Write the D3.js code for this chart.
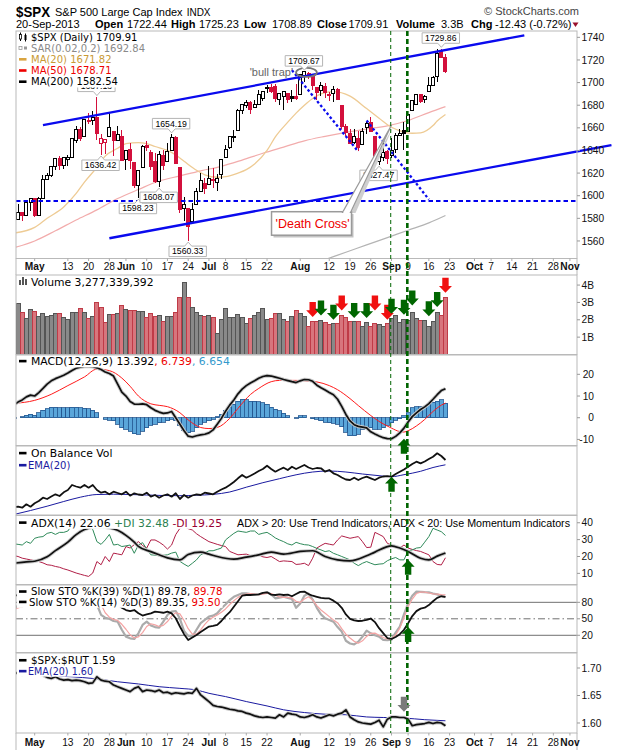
<!DOCTYPE html>
<html>
<head>
<meta charset="utf-8">
<title>$SPX Daily</title>
<script src="https://cdn.jsdelivr.net/npm/d3@7/dist/d3.min.js"></script>
<style>
  body { margin: 0; background: #fff; }
  text { font-family: "Liberation Sans", Arial, sans-serif; }
  text.lg { font-family: "DejaVu Sans", Verdana, sans-serif; white-space: pre; }
</style>
</head>
<body>
<div id="chart"></div>
<script>
// ---------------- data ----------------
const days = [
 "2013-04-24","2013-04-25","2013-04-26","2013-04-29","2013-04-30",
 "2013-05-01","2013-05-02","2013-05-03","2013-05-06","2013-05-07","2013-05-08","2013-05-09","2013-05-10","2013-05-13","2013-05-14","2013-05-15","2013-05-16","2013-05-17","2013-05-20","2013-05-21","2013-05-22","2013-05-23","2013-05-24","2013-05-28","2013-05-29","2013-05-30","2013-05-31",
 "2013-06-03","2013-06-04","2013-06-05","2013-06-06","2013-06-07","2013-06-10","2013-06-11","2013-06-12","2013-06-13","2013-06-14","2013-06-17","2013-06-18","2013-06-19","2013-06-20","2013-06-21","2013-06-24","2013-06-25","2013-06-26","2013-06-27","2013-06-28",
 "2013-07-01","2013-07-02","2013-07-03","2013-07-05","2013-07-08","2013-07-09","2013-07-10","2013-07-11","2013-07-12","2013-07-15","2013-07-16","2013-07-17","2013-07-18","2013-07-19","2013-07-22","2013-07-23","2013-07-24","2013-07-25","2013-07-26","2013-07-29","2013-07-30","2013-07-31",
 "2013-08-01","2013-08-02","2013-08-05","2013-08-06","2013-08-07","2013-08-08","2013-08-09","2013-08-12","2013-08-13","2013-08-14","2013-08-15","2013-08-16","2013-08-19","2013-08-20","2013-08-21","2013-08-22","2013-08-23","2013-08-26","2013-08-27","2013-08-28","2013-08-29","2013-08-30",
 "2013-09-03","2013-09-04","2013-09-05","2013-09-06","2013-09-09","2013-09-10","2013-09-11","2013-09-12","2013-09-13","2013-09-16","2013-09-17","2013-09-18","2013-09-19","2013-09-20"]

const open = [
 1578.8,1578.8,1585.2,1582.3,1593.6,
 1597.6,1582.8,1597.6,1614.4,1617.6,1625.6,1632.7,1626.7,1632.1,1633.8,1649.1,1658.1,1652.4,1665.7,1666.2,1669.4,1646.2,1646.7,1652.6,1656.6,1649.1,1652.1,
 1631.7,1640.7,1629.1,1609.3,1625.3,1644.7,1638.6,1629.9,1612.2,1635.5,1630.6,1639.8,1651.8,1624.6,1588.6,1588.8,1577.5,1592.3,1603.4,1611.1,
 1609.8,1614.3,1611.5,1618.7,1634.2,1642.9,1652.3,1657.4,1675.3,1679.6,1682.7,1677.9,1681.0,1686.2,1694.4,1696.0,1696.1,1685.2,1687.3,1690.3,1687.9,1687.8,
 1689.4,1706.1,1708.0,1705.8,1695.3,1693.4,1696.1,1688.4,1690.7,1693.9,1679.6,1661.2,1655.3,1646.8,1650.7,1645.0,1659.9,1664.3,1652.5,1630.3,1633.5,1638.9,
 1635.9,1640.7,1653.3,1657.4,1656.9,1675.1,1681.0,1689.2,1685.0,1691.7,1697.7,1705.7,1727.3,1722.44]
const high = [
 1585.8,1592.6,1585.8,1596.6,1597.6,
 1597.6,1598.6,1618.5,1619.8,1626.0,1632.8,1635.0,1633.7,1636.0,1651.1,1661.5,1660.5,1667.5,1672.8,1674.9,1687.18,1654.2,1649.8,1674.2,1656.6,1661.9,1658.0,
 1640.4,1646.5,1629.3,1622.6,1644.4,1648.7,1640.1,1637.7,1639.3,1640.8,1646.5,1654.19,1652.5,1624.6,1599.2,1588.8,1593.8,1606.8,1620.1,1615.9,
 1626.6,1624.3,1618.9,1632.1,1644.7,1652.4,1657.9,1676.6,1680.2,1684.5,1683.7,1684.8,1693.1,1692.1,1697.6,1698.4,1698.4,1690.9,1691.9,1690.9,1693.2,1698.4,
 1707.9,1709.67,1709.2,1705.8,1695.3,1700.2,1699.4,1691.5,1696.8,1695.5,1679.6,1663.6,1659.2,1658.9,1656.9,1659.6,1664.9,1669.5,1652.5,1641.2,1646.4,1640.1,
 1651.4,1655.7,1659.2,1664.8,1672.4,1684.1,1689.1,1690.0,1688.7,1705.0,1705.5,1729.4,1729.86,1725.23]
const low = [
 1575.8,1578.8,1577.6,1582.3,1586.5,
 1581.3,1582.8,1597.6,1614.2,1616.6,1622.7,1623.1,1623.7,1626.7,1633.8,1646.7,1648.6,1652.4,1663.5,1662.7,1648.9,1636.42,1636.6,1652.6,1635.5,1648.6,1630.7,
 1622.7,1623.6,1607.1,1598.23,1625.3,1639.3,1622.9,1610.9,1608.07,1622.9,1630.3,1639.8,1628.9,1584.3,1577.7,1560.33,1577.1,1592.3,1603.4,1601.1,
 1609.8,1606.8,1604.6,1614.7,1634.2,1641.2,1647.7,1657.4,1672.3,1677.9,1671.8,1677.9,1681.0,1684.1,1690.7,1690.8,1682.6,1680.2,1676.0,1681.9,1682.4,1684.9,
 1689.4,1700.7,1703.6,1693.3,1684.9,1688.4,1686.0,1683.4,1682.6,1684.8,1658.6,1652.6,1645.8,1646.1,1639.4,1645.0,1654.8,1656.0,1629.1,1627.47,1630.9,1628.1,
 1633.4,1637.4,1653.1,1640.6,1656.9,1675.1,1681.0,1682.0,1682.2,1691.7,1697.7,1700.7,1721.4,1708.89]
const close = [
 1578.8,1585.2,1582.2,1593.6,1597.6,
 1582.7,1597.6,1614.4,1617.5,1625.96,1632.7,1626.7,1633.7,1633.8,1650.3,1658.8,1650.5,1667.5,1666.3,1669.2,1655.4,1650.5,1649.6,1660.1,1648.4,1654.4,1630.7,
 1640.4,1631.4,1608.9,1622.6,1643.4,1642.8,1626.1,1612.5,1636.4,1626.7,1639.0,1651.8,1628.9,1588.2,1592.4,1573.1,1588.0,1603.3,1613.2,1606.3,
 1615.0,1614.1,1615.4,1631.9,1640.5,1652.3,1652.6,1675.0,1680.2,1682.5,1676.3,1680.9,1689.4,1692.1,1695.5,1692.4,1685.9,1690.3,1691.7,1685.3,1686.0,1685.7,
 1706.9,1709.67,1707.1,1697.4,1690.9,1697.5,1691.4,1689.5,1694.2,1685.4,1661.3,1655.8,1646.1,1652.4,1642.8,1657.0,1663.5,1656.8,1630.5,1635.0,1638.2,1633.0,
 1639.8,1653.1,1655.1,1655.2,1671.7,1684.0,1689.1,1683.4,1688.0,1697.6,1704.8,1725.5,1722.3,1709.91]

// volume in billions
const volume = [
 3.0,2.92,2.40,2.06,2.58,
 2.46,2.21,2.38,2.21,2.27,2.38,2.38,2.12,2.00,2.40,2.44,2.63,2.44,2.10,2.21,3.02,2.71,1.87,2.31,2.31,2.35,2.85,
 2.60,2.54,2.54,2.46,2.46,2.12,2.38,2.21,2.27,1.90,2.21,2.21,2.44,3.27,4.17,3.27,2.73,2.40,2.25,2.21,
 2.25,2.15,1.23,2.02,2.63,2.15,2.12,2.31,2.15,1.80,2.08,2.27,2.44,2.63,2.02,2.06,2.36,2.35,2.02,1.88,2.21,2.56,
 2.36,2.21,1.63,1.92,1.92,1.98,1.83,1.73,1.81,1.81,2.25,2.15,1.92,1.92,1.92,1.60,1.87,1.60,1.81,1.73,1.63,1.77,
 2.08,2.27,1.83,2.02,1.96,2.44,2.06,1.98,1.98,1.63,1.92,2.44,2.27,3.28]

// moving averages (sampled where the line was read)
const ma20 = [["2013-04-24",1567],["2013-05-01",1572],["2013-05-06",1580],["2013-05-10",1590],["2013-05-15",1602],["2013-05-17",1612],["2013-05-22",1625],["2013-05-24",1635],["2013-05-30",1642],["2013-06-03",1646],["2013-06-06",1647],["2013-06-10",1646],["2013-06-12",1643.5],["2013-06-17",1640],["2013-06-19",1636],["2013-06-21",1630.5],["2013-06-26",1622.5],["2013-06-28",1618.5],["2013-07-03",1616.3],["2013-07-08",1616.8],["2013-07-11",1620],["2013-07-15",1623],["2013-07-17",1628],["2013-07-22",1640],["2013-07-24",1652],["2013-07-29",1665],["2013-07-31",1673],["2013-08-02",1680],["2013-08-06",1686],["2013-08-08",1690],["2013-08-13",1692],["2013-08-19",1688],["2013-08-23",1677],["2013-08-28",1668.5],["2013-09-03",1660.5],["2013-09-06",1656.3],["2013-09-10",1655.2],["2013-09-12",1655.6],["2013-09-17",1662],["2013-09-18",1666],["2013-09-20",1671.82]]
const ma50 = [["2013-04-24",1554],["2013-05-01",1560],["2013-05-08",1569],["2013-05-15",1578.5],["2013-05-22",1587.5],["2013-05-30",1597.5],["2013-06-06",1605.5],["2013-06-13",1613],["2013-06-20",1617.5],["2013-06-27",1622],["2013-07-05",1626],["2013-07-12",1631.5],["2013-07-19",1637.5],["2013-07-26",1643],["2013-08-02",1648.5],["2013-08-09",1652.5],["2013-08-16",1656],["2013-08-23",1659],["2013-08-30",1661.8],["2013-09-09",1666.5],["2013-09-16",1673.5],["2013-09-20",1678.71]]
const ma200 = [["2013-08-02",1537],["2013-08-09",1543.5],["2013-08-16",1550],["2013-08-23",1556.5],["2013-08-30",1563],["2013-09-09",1569.5],["2013-09-16",1576],["2013-09-20",1582.54]]

// MACD(12,26,9)
const macd = [
 6.0,7.2,8.2,9.6,10.4,
 10.0,11.6,13.5,15.5,17.0,18.0,18.8,19.6,20.6,21.8,22.8,23.3,23.6,23.7,23.5,23.0,22.2,21.1,20.4,19.2,15.5,11.8,
 10.0,7.5,6.3,6.2,6.4,6.0,4.6,3.4,2.6,2.0,2.2,2.9,0.0,-3.0,-6.0,-8.5,-8.9,-8.3,-7.9,-7.6,
 -7.0,-5.6,-3.0,-0.3,3.0,5.8,8.2,11.0,13.2,14.8,16.0,17.0,18.2,19.0,19.4,19.2,18.7,18.2,17.6,17.1,16.6,16.2,
 17.0,17.6,17.5,16.8,15.0,13.8,12.8,11.6,10.6,8.5,5.2,1.5,-1.5,-3.2,-4.0,-4.3,-4.7,-6.5,-7.5,-8.4,-9.2,-9.6,
 -9.7,-8.6,-7.0,-4.8,-2.0,0.5,2.2,3.8,5.0,6.5,8.5,10.6,12.5,13.392]
const macdSignal = [["2013-04-24",6.6],["2013-05-01",8.0],["2013-05-07",10.8],["2013-05-13",14.8],["2013-05-17",18.8],["2013-05-22",22.4],["2013-05-28",21.7],["2013-05-31",18.3],["2013-06-04",14.5],["2013-06-06",10.0],["2013-06-11",6.4],["2013-06-13",5.7],["2013-06-17",5.1],["2013-06-20",2.3],["2013-06-24",-1.0],["2013-06-27",-4.5],["2013-07-01",-5.0],["2013-07-03",-4.5],["2013-07-09",-0.3],["2013-07-11",4.3],["2013-07-16",10.7],["2013-07-18",13.5],["2013-07-23",16.6],["2013-07-25",17.2],["2013-07-31",17.2],["2013-08-05",16.9],["2013-08-07",16.5],["2013-08-12",14.8],["2013-08-14",12.9],["2013-08-19",8.8],["2013-08-21",5.6],["2013-08-26",1.0],["2013-08-28",-1.7],["2013-09-03",-4.8],["2013-09-05",-6.4],["2013-09-06",-6.6],["2013-09-09",-6.0],["2013-09-11",-3.8],["2013-09-13",-0.8],["2013-09-17",2.9],["2013-09-19",5.8],["2013-09-20",6.739]]
const macdHist = [
 -0.2,0.0,0.5,1.1,1.5,
 1.1,2.3,3.5,4.2,4.8,4.9,4.6,4.5,4.5,4.8,4.8,4.5,4.3,4.2,3.5,2.3,0.0,-0.8,-1.2,-1.5,-3.1,-4.6,
 -5.4,-6.2,-7.4,-7.7,-6.2,-4.6,-3.5,-3.1,-2.3,-2.0,-1.5,-0.8,-1.5,-3.8,-5.7,-6.9,-6.2,-4.6,-3.1,-2.0,
 -1.5,-0.8,0.5,1.5,3.5,4.6,6.2,7.7,8.5,8.2,7.7,7.7,7.4,6.9,6.2,4.9,3.8,3.1,2.0,0.8,0.0,-0.3,
 0.8,0.8,0.0,-0.5,-0.8,-1.5,-2.0,-2.3,-2.6,-3.1,-4.2,-6.6,-8.2,-8.2,-7.7,-5.4,-4.6,-4.6,-5.4,-5.4,-4.6,-3.5,
 -2.3,-1.2,-0.5,0.8,2.3,4.6,5.1,5.1,5.4,6.2,7.2,7.7,8.2,6.654]

// On Balance Volume (relative, no scale printed) and its EMA(20)
const obv = [
 8.0,8.3,7.3,10.7,8.3,
 11.7,14.0,17.3,16.0,18.5,20.7,19.0,22.7,25.0,30.0,28.5,27.3,30.0,27.3,30.0,25.0,22.3,23.3,20.7,23.3,22.0,20.7,
 23.3,19.3,21.7,20.5,20.0,22.3,18.3,20.0,17.3,19.5,20.7,18.3,21.7,16.0,20.0,17.3,19.5,20.7,20.0,22.3,
 21.5,20.7,23.3,25.5,27.3,30.0,33.0,36.7,40.0,37.3,39.3,41.5,44.0,46.0,49.3,46.0,43.3,45.5,47.3,45.0,48.3,46.0,
 48.0,50.0,47.5,46.0,47.0,46.7,43.3,45.0,41.7,40.0,37.5,35.5,35.0,37.3,35.0,37.0,38.3,36.7,35.0,37.3,38.5,38.8,
 38.3,41.0,43.3,45.5,48.3,51.0,53.3,51.7,53.5,56.0,58.3,61.7,59.0,55.0]
const obvEma = [["2013-04-24",0.5],["2013-04-30",4.5],["2013-05-06",8.8],["2013-05-10",13.5],["2013-05-16",17.8],["2013-05-22",20.5],["2013-05-29",20.8],["2013-06-04",20.5],["2013-06-10",20.0],["2013-06-14",19.5],["2013-06-20",19.3],["2013-06-26",19.8],["2013-07-02",20.6],["2013-07-09",23.0],["2013-07-15",27.8],["2013-07-19",32.3],["2013-07-25",36.3],["2013-07-31",40.2],["2013-08-06",43.0],["2013-08-12",44.0],["2013-08-16",43.0],["2013-08-22",41.0],["2013-08-28",39.3],["2013-09-03",38.3],["2013-09-06",40.3],["2013-09-12",43.7],["2013-09-17",47.5],["2013-09-20",50.2]]

// ADX(14), +DI, -DI
const adx = [["2013-04-24",16],["2013-04-29",16.8],["2013-05-01",17.2],["2013-05-06",19.8],["2013-05-08",23.5],["2013-05-13",28.5],["2013-05-15",33],["2013-05-17",36],["2013-05-21",37.3],["2013-05-23",37.5],["2013-05-28",37],["2013-05-30",35.5],["2013-06-03",32.5],["2013-06-05",28.5],["2013-06-06",26],["2013-06-11",22.9],["2013-06-13",21],["2013-06-17",19.2],["2013-06-20",18],["2013-06-24",21.2],["2013-06-27",22.6],["2013-07-01",21.4],["2013-07-03",20],["2013-07-10",18.4],["2013-07-15",19.6],["2013-07-18",21],["2013-07-23",22.6],["2013-07-26",21.4],["2013-08-01",23],["2013-08-06",23.4],["2013-08-09",20],["2013-08-14",18],["2013-08-19",17.4],["2013-08-23",20.4],["2013-08-27",22.6],["2013-09-03",26.3],["2013-09-05",25],["2013-09-09",23],["2013-09-12",19],["2013-09-16",18],["2013-09-18",20.2],["2013-09-20",22.06]]
const plusDI = [
 27.5,27.2,26.8,28.8,27.8,
 30.8,31.5,31.8,33.7,34.3,33.1,34.3,34.3,35.1,38.7,39.5,40,39,38,36,28.8,27.2,29.8,33.1,26.8,27.2,25.9,
 26.3,26.8,21.9,26.8,28.2,24.5,21.0,20.8,20.4,20.7,21.0,22.0,22.6,17.1,15.5,14.1,16.0,18.0,21.0,22.2,
 23.4,23.4,24.2,25.0,29.8,31.8,33.7,35.1,34.7,34.3,35.1,35.1,33.1,33.8,34.3,32.8,31.0,29.8,28.8,27.5,26.8,28.4,
 27.6,27.0,26.8,25.9,24.8,23.9,22.9,23.4,21.9,21.0,20.0,19.0,18.0,16.0,14.6,16.0,17.0,16.0,15.1,15.5,15.7,17.5,
 18.6,19.4,18.0,18.0,23.4,23.9,25.0,25.3,28.5,31.8,36.7,35.7,34.7,32.48]
const minusDI = [
 20.5,20,19,18.5,18,
 17.5,17,16.2,15.1,14.8,14.1,13.6,12.7,12,11.1,10.2,9.5,8.8,8.2,10.2,17,15.1,20,17,22,21.5,21,
 25.9,25,27,28.8,26.5,25,29.8,29.8,28.5,26.8,24.4,26.8,33,36.7,37.7,36.5,35.7,33.5,31.8,30.3,
 28.8,28,27.2,26.5,25.9,23,22,21,21.2,21.4,20.5,20,21,19.8,19.4,20,18.5,17,17.4,17.2,17,15.3,
 15.5,16,14.6,19,25,26.5,27.8,27.3,26.8,29.8,32.2,31.5,30.8,31.3,31.8,28.8,25.3,25.5,34.3,33.1,31.8,27.8,
 26.8,25.8,25,26.8,25,24.2,23.5,23,22,21,17,15.3,15,19.25]

// slow stochastics
const stoK39 = [
 92,93,90,94,96,
 90,94,97,97,98,99,96,98,98,99,99,95,99,97,98,88,85,84,86,80,76,70,
 66,64,66,60,56,58,60,63,62,61,63,60,51,36,22,11.5,16,20.6,26,31,
 35.8,37,38.8,46,55,62,72,82,92,93.3,93.3,94,94.5,97,98.2,94,93.3,94.5,93.3,94,91,95,
 99,99.4,95,92,90,88,87.3,87,83,78,70,58,50,47,46,46.5,48,50.5,44,33,24,15,
 13.3,17,22,30,42,55,64,68.5,70.3,75,82,88,91,89.78]
const stoK14 = [
 68,74,72,85,90,
 80,88,96,96,98,99,92,96,96,98,98,90,98,95,96,76,57,52,50,46,44.8,30,
 17.6,14.5,13.3,23.6,38.8,44.8,38,35,33.9,44.8,57,63,64.2,50,28,19,17.6,30,42,48,
 53.9,55.8,60,69,76,84,90,93.3,96.4,96.4,95,93.3,94.5,96.4,98.2,94.5,87.3,88.5,90.3,88,86.1,70,
 78,92,96,85,70,58,51,48,44.8,35,26.7,10,5,3.6,8.5,17.6,28.5,23.6,20,17.6,11.5,11,
 12.1,25,36,58,78,92,99.4,99,98.5,98.2,96,94.5,92,89.35]
const stoD3 = [
 66,70,72,77,82,
 85,86,88,93,97,98,96,96,95,97,97,95,95,94,96,89,76,61,53,49,47,40,
 31,21,15,17,25,36,41,39,36,38,45,55,61,59,47,32,22,22,30,40,
 48,53,57,62,68,76,83,89,93,95,96,95,94,95,96,96,93,90,89,89,88,82,
 80,86,90,84,74,66,60,54,48,43,32,22,15,9,5.5,10,18,23.6,24,20,16,13.3,
 14,20.6,33,52,72,86,96,98.5,98.5,97,95.5,95,94,93.5]

// $SPX:$RUT ratio and EMA(20)
const ratio = [
 1.692,1.690,1.688,1.693,1.689,
 1.694,1.690,1.687,1.683,1.681,1.684,1.680,1.678,1.679,1.677,1.678,1.677,1.675,1.672,1.673,1.684,1.678,1.676,1.675,1.669,1.666,1.663,
 1.660,1.657,1.663,1.666,1.657,1.660,1.659,1.657,1.660,1.655,1.656,1.653,1.655,1.654,1.653,1.655,1.654,1.663,1.651,1.645,
 1.639,1.632,1.630,1.629,1.627,1.625,1.624,1.622,1.621,1.618,1.616,1.613,1.611,1.610,1.611,1.610,1.609,1.615,1.611,1.618,1.616,1.615,
 1.611,1.610,1.612,1.615,1.611,1.609,1.612,1.615,1.613,1.616,1.618,1.624,1.611,1.606,1.602,1.600,1.599,1.598,1.601,1.605,1.593,1.607,
 1.611,1.611,1.610,1.610,1.607,1.595,1.597,1.598,1.599,1.601,1.599,1.601,1.600,1.595]
const ratioEma = [["2013-04-24",1.690],["2013-05-03",1.687],["2013-05-14",1.684],["2013-05-21",1.681],["2013-05-30",1.675],["2013-06-06",1.671],["2013-06-13",1.666],["2013-06-20",1.663],["2013-06-26",1.660],["2013-07-01",1.654],["2013-07-08",1.648],["2013-07-15",1.639],["2013-07-22",1.631],["2013-07-26",1.624],["2013-08-02",1.619],["2013-08-09",1.616],["2013-08-16",1.615],["2013-08-23",1.611],["2013-08-29",1.610],["2013-09-06",1.609],["2013-09-13",1.606],["2013-09-20",1.604]]

// annotations drawn on the price panel
const noteDates  = ["2013-05-22","2013-05-23","2013-06-06","2013-06-13","2013-06-18","2013-06-24","2013-08-02","2013-08-28","2013-09-19"]
const notePrices = [1687.18,1636.42,1598.23,1608.07,1654.19,1560.33,1709.67,1627.47,1729.86]
const noteSide   = ["high","low","low","low","high","low","high","low","high"]
const channelLines = [[["2013-05-03",1662.5],["2013-10-17",1741.8]], [["2013-05-28",1562.4],["2013-11-15",1644.8]]]
const downLines = [[["2013-07-30",1711],["2013-08-21",1639]], [["2013-08-23",1666.5],["2013-09-16",1596.7]]]
const supportLevel = 1595.3
const bullTrap = {from: "2013-07-31", to: "2013-08-07", price: 1709, spread: 4}
const deathCross = {date: "2013-09-03", price: 1662.5}
const markerDays = ["2013-09-03", "2013-09-09"]

// signal arrows
const volArrowDates = ["2013-08-06","2013-08-08","2013-08-13","2013-08-15","2013-08-20","2013-08-23","2013-08-27","2013-08-30","2013-09-03","2013-09-06","2013-09-10","2013-09-16","2013-09-18","2013-09-20"]
const volArrowKind  = ["dist","acc","acc","dist","acc","acc","dist","dist","acc","acc","acc","acc","acc","dist"]
const volArrowAt    = [2.16,2.25,2.0,2.54,2.1,2.1,2.54,2.0,2.35,2.29,2.83,2.2,2.73,3.56]
const signalArrows = [
  {panel: "macd", date: "2013-09-06", value: -9.7, dir: "up"},
  {panel: "obv", date: "2013-09-03", value: 38.3, dir: "up"},
  {panel: "adx", date: "2013-09-09", value: 18, dir: "up"},
  {panel: "sto", date: "2013-09-09", value: 35, dir: "up"},
  {panel: "ratio", date: "2013-09-06", value: 1.6205, dir: "down"}]

// axis labels
const priceTicks = [1560,1580,1600,1620,1640,1660,1680,1700,1720,1740]
const volTicks = [1,2,3,4]
const macdTicks = [-10,0,10,20]
const adxTicks = [10,20,30,40]
const stoTicks = [20,50,80]
const ratioTicks = [1.60,1.65,1.70]
const tickDates = ["2013-05-01","2013-05-13","2013-05-20","2013-05-28","2013-06-03","2013-06-10","2013-06-17","2013-06-24","2013-07-01","2013-07-08","2013-07-15","2013-07-22","2013-08-01","2013-08-12","2013-08-19","2013-08-26","2013-09-03","2013-09-09","2013-09-16","2013-09-23","2013-10-01","2013-10-07","2013-10-14","2013-10-21","2013-10-28","2013-11-01"]
const tickLabels = ["May","13","20","28","Jun","10","17","24","Jul","8","15","22","Aug","12","19","26","Sep","9","16","23","Oct","7","14","21","28","Nov"]

// ---------------- chart ----------------
const width = 620, height = 750
const left = 16, right = 577

const svg = d3.select("div#chart").append("svg").attr("width", width).attr("height", height)

// trading days, data first then the empty weeks on the right
const fmt = d3.utcFormat("%Y-%m-%d")
const allDays = days.concat(d3.utcDays(new Date(Date.UTC(2013, 8, 21)), new Date(Date.UTC(2013, 10, 16)))
  .filter(d => d.getUTCDay() % 6 != 0).map(d => fmt(d)))
const dayPos = new Map(allDays.map((d, i) => [d, i]))
const x = d3.scaleLinear().domain([0.5, 135.7]).range([left, right])
const xd = d => x(dayPos.get(d))

// panels: top, bottom, value range
const layout = {
  price: [31, 258.5, 1544.5, 1745.6],
  vol:   [275, 354.5, 0, 4.58],
  macd:  [355, 445.5, -12.8, 28.9],
  obv:   [446, 515, 0, 69],
  adx:   [515.5, 584.5, 3.4, 44.3],
  sto:   [585, 652.5, -11.3, 111.5],
  ratio: [653, 733, 1.5818, 1.7273]
}
const P = {}
Object.entries(layout).forEach(([name, [top, bottom, lo, hi]]) => {
  svg.append("clipPath").attr("id", "clip-" + name).append("rect")
    .attr("x", left).attr("y", top).attr("width", right - left).attr("height", bottom - top)
  P[name] = {top, bottom,
    y: d3.scaleLinear().domain([lo, hi]).range([bottom, top]),
    g: svg.append("g").attr("clip-path", `url(#clip-${name})`)}
})

const daily = (p, vals) => d3.line().x((v, k) => x(k)).y(v => p.y(v))(vals)
const smooth = (p, pts) => d3.line().curve(d3.curveMonotoneX).x(d => xd(d[0])).y(d => p.y(d[1]))(pts)
const path = (p, d, color, w) => p.g.append("path").attr("d", d).attr("fill", "none")
  .attr("stroke", color).attr("stroke-width", w).attr("stroke-linejoin", "round")
const heavy = (p, d) => { path(p, d, "#cacaca", 3.6); path(p, d, "#111", 1.7) }
const isDown = k => k > 0 && close[k] < close[k - 1]

// price panel
const pp = P.price
path(pp, smooth(pp, ma200), "#b4b4b4", 1.2)
path(pp, smooth(pp, ma50), "#f2acac", 1.2)
path(pp, smooth(pp, ma20), "#eecb94", 1.3)

const candleG = pp.g.append("g").attr("shape-rendering", "crispEdges")
days.forEach((d, k) => {
  const col = isDown(k) ? "#d3103c" : "#000"
  const cx = x(k)
  candleG.append("line").attr("x1", cx).attr("x2", cx)
    .attr("y1", pp.y(high[k])).attr("y2", pp.y(low[k])).attr("stroke", col)
  const t = pp.y(Math.max(open[k], close[k])), b = pp.y(Math.min(open[k], close[k]))
  candleG.append("rect").attr("x", cx - 1.5).attr("y", t).attr("width", 3).attr("height", Math.max(b - t, 1))
    .attr("fill", close[k] > open[k] ? "#fff" : col).attr("stroke", col)
})

pp.g.append("line").attr("x1", left).attr("x2", right).attr("y1", pp.y(supportLevel)).attr("y2", pp.y(supportLevel))
  .attr("stroke", "#0000ee").attr("stroke-width", 2).attr("stroke-dasharray", "4.5,3")

const trend = svg.append("g")
channelLines.forEach(([a, b]) => trend.append("line")
  .attr("x1", xd(a[0])).attr("y1", pp.y(a[1])).attr("x2", xd(b[0])).attr("y2", pp.y(b[1]))
  .attr("stroke", "#0a0aee").attr("stroke-width", 2.3))
downLines.forEach(([a, b]) => trend.append("line")
  .attr("x1", xd(a[0])).attr("y1", pp.y(a[1])).attr("x2", xd(b[0])).attr("y2", pp.y(b[1]))
  .attr("stroke", "#0a0aee").attr("stroke-width", 2.3).attr("stroke-dasharray", "2.6,2.4"))

// bull trap ellipse + label
const btx = (xd(bullTrap.from) + xd(bullTrap.to)) / 2
trend.append("ellipse").attr("cx", btx).attr("cy", pp.y(bullTrap.price))
  .attr("rx", (xd(bullTrap.to) - xd(bullTrap.from)) / 2)
  .attr("ry", (pp.y(bullTrap.price - bullTrap.spread) - pp.y(bullTrap.price + bullTrap.spread)) / 2)
  .attr("fill", "none").attr("stroke", "#777").attr("stroke-width", 1.8)
trend.append("text").attr("x", xd(bullTrap.from) - 3).attr("y", pp.y(bullTrap.price) + 3.8)
  .attr("text-anchor", "end").attr("font-size", 11).attr("fill", "#666").text("'bull trap'")

// price bubbles
const notes = svg.append("g")
noteDates.forEach((d, i) => {
  const cx = xd(d), py = pp.y(notePrices[i]), h = 10.5
  const g = notes.append("g")
  const t = g.append("text").attr("font-size", 8.7).attr("text-anchor", "middle").text(notePrices[i].toFixed(2))
  const w = t.node().getComputedTextLength() + 6
  const bx = cx - 0.5 - w / 2, r = bx + w
  let tip, by, shape
  if (noteSide[i] == "high") {
    tip = py - 1.5; by = tip - 4 - h
    shape = `M${bx},${by}H${r}V${by + h}H${cx + 3.5}L${cx},${tip}L${cx - 3.5},${by + h}H${bx}Z`
  } else {
    tip = py + 1.5; by = tip + 4
    shape = `M${bx},${by}H${cx - 3.5}L${cx},${tip}L${cx + 3.5},${by}H${r}V${by + h}H${bx}Z`
  }
  g.insert("path", "text").attr("d", shape).attr("fill", "#fff").attr("stroke", "#b5b5b5")
  t.attr("x", cx - 0.5).attr("y", by + h - 2.3)
})

// 'Death Cross' callout
const dcx = xd(deathCross.date), dcy = pp.y(deathCross.price)
const call = svg.append("g")
call.append("rect").attr("x", dcx - 118).attr("y", dcy + 89).attr("width", 80).attr("height", 23.5).attr("fill", "#c4c4c4")
call.append("polygon").attr("points", [[dcx - 47, dcy + 88], [dcx - 36, dcy + 88], [dcx + 1.5, dcy + 2]].join(" ")).attr("fill", "#cfcfcf")
call.append("rect").attr("x", dcx - 120).attr("y", dcy + 86.7).attr("width", 80).attr("height", 23.5)
  .attr("fill", "#fff").attr("stroke", "#9a9a9a").attr("stroke-width", 1.5)
call.append("polygon").attr("points", [[dcx - 49, dcy + 87.5], [dcx - 41, dcy + 87.5], [dcx, dcy]].join(" "))
  .attr("fill", "#fff").attr("stroke", "#9a9a9a").attr("stroke-width", 1.2)
call.append("line").attr("x1", dcx - 48.2).attr("x2", dcx - 41.8).attr("y1", dcy + 87.5).attr("y2", dcy + 87.5).attr("stroke", "#fff").attr("stroke-width", 1.6)
call.append("text").attr("x", dcx - 116).attr("y", dcy + 103).attr("font-size", 12.5).attr("fill", "#ee0000").text("'Death Cross'")

// volume
const vp = P.vol
const volG = vp.g.append("g").attr("shape-rendering", "crispEdges")
volume.forEach((v, k) => volG.append("rect")
  .attr("x", x(k) - 2).attr("width", 4).attr("y", vp.y(v)).attr("height", vp.y(0) - vp.y(v))
  .attr("fill", isDown(k) ? "#d8757d" : "#898989").attr("stroke", isDown(k) ? "#bf3b47" : "#555"))

// MACD
const mp = P.macd
const histG = mp.g.append("g").attr("shape-rendering", "crispEdges")
macdHist.forEach((v, k) => histG.append("rect")
  .attr("x", x(k) - 2.07).attr("width", 4.15)
  .attr("y", Math.min(mp.y(v), mp.y(0))).attr("height", Math.abs(mp.y(v) - mp.y(0)))
  .attr("fill", "#5aa6da").attr("stroke", "#22558f").attr("stroke-width", 0.8))
path(mp, smooth(mp, macdSignal), "#ff1a1a", 1)
heavy(mp, daily(mp, macd))

// OBV
const op = P.obv
path(op, smooth(op, obvEma), "#1a1aa0", 1)
path(op, daily(op, obv), "#111", 1.8)

// ADX
const ap = P.adx
path(ap, daily(ap, minusDI), "#b01e46", 1)
path(ap, daily(ap, plusDI), "#2f8a5a", 1)
heavy(ap, smooth(ap, adx))

// Slow stochastics
const sp = P.sto
;[80, 20].forEach(v => sp.g.append("line").attr("x1", left).attr("x2", right).attr("y1", sp.y(v)).attr("y2", sp.y(v)).attr("stroke", "#707070"))
sp.g.append("line").attr("x1", left).attr("x2", right).attr("y1", sp.y(50)).attr("y2", sp.y(50))
  .attr("stroke", "#707070").attr("stroke-dasharray", "7,3,1.5,3")
path(sp, daily(sp, stoK14), "#ababab", 2.2)
path(sp, daily(sp, stoD3), "#f4a3a3", 1.2)
path(sp, daily(sp, stoK39), "#111", 1.8)

// ratio
const rp = P.ratio
path(rp, smooth(rp, ratioEma), "#1a1aa0", 1)
heavy(rp, daily(rp, ratio))

// ---------------- legends ----------------
const lg = svg.append("g")
function legend(x0, base, parts, size, marker) {
  const bg = lg.append("rect").attr("fill", "#fff")
  const t = lg.append("text").attr("class", "lg").attr("x", x0).attr("y", base).attr("font-size", size)
  parts.forEach(([s, c]) => t.append("tspan").attr("fill", c).text(s))
  const w = t.node().getComputedTextLength()
  bg.attr("x", left + 1).attr("y", base - size * 0.9).attr("width", x0 + w + 2 - left - 1).attr("height", size * 1.12)
  if (marker) lg.append("rect").attr("x", 19).attr("y", base - size * 0.36 - 1.3).attr("width", 7.5).attr("height", 2.6).attr("fill", marker)
}
const mainRows = [40.5, 51.7, 62.9, 74.1, 85.3]
legend(31, mainRows[0], [["$SPX (Daily) 1709.91", "#000"]], 10)
legend(31, mainRows[1], [["SAR(0.02,0.2) 1692.84", "#8a8a8a"]], 10)
legend(31, mainRows[2], [["MA(20) 1671.82", "#c99a35"]], 10, "#d9a441")
legend(31, mainRows[3], [["MA(50) 1678.71", "#ee0000"]], 10, "#ee0000")
legend(31, mainRows[4], [["MA(200) 1582.54", "#000"]], 10, "#000")
// little candle and SAR glyphs
lg.append("line").attr("x1", 20.5).attr("x2", 20.5).attr("y1", 32.5).attr("y2", 41).attr("stroke", "#000")
lg.append("rect").attr("x", 19.5).attr("y", 34.5).attr("width", 2).attr("height", 4.5).attr("fill", "#fff").attr("stroke", "#000").attr("stroke-width", 0.8)
lg.append("line").attr("x1", 25.5).attr("x2", 25.5).attr("y1", 33.5).attr("y2", 41.5).attr("stroke", "#000")
lg.append("rect").attr("x", 24.5).attr("y", 35).attr("width", 2).attr("height", 5).attr("fill", "#000")
lg.append("rect").attr("x", 19).attr("y", 46.5).attr("width", 3).attr("height", 3).attr("fill", "none").attr("stroke", "#999").attr("stroke-width", 0.8)
lg.append("rect").attr("x", 24).attr("y", 46.5).attr("width", 3).attr("height", 3).attr("fill", "#999")

legend(31, 285.8, [["Volume 3,277,339,392", "#000"]], 10.8)
;[[19, 5], [22, 8], [25, 6]].forEach(([bx, bh]) => lg.append("rect").attr("x", bx).attr("y", 285 - bh).attr("width", 2).attr("height", bh).attr("fill", "#555"))
legend(31, 365, [["MACD(12,26,9) 13.392", "#000"], [", 6.739", "#ee0000"], [", 6.654", "#3399cc"]], 10.8, "#000")
legend(31, 457, [["On Balance Vol", "#000"]], 10.8, "#000")
legend(28, 468.8, [["EMA(20)", "#1a1aa0"]], 10, "#1a1aa0")
legend(31, 526.5, [["ADX(14) 22.06 ", "#000"], ["+DI 32.48 ", "#2a7f4f"], ["-DI 19.25", "#990033"]], 10.8, "#000")
legend(31, 595.2, [["Slow STO %K(39) %D(1) 89.78, ", "#000"], ["89.78", "#ee0000"]], 10.2, "#000")
legend(29, 605.6, [["Slow STO %K(14) %D(3) 89.35, ", "#000"], ["93.50", "#ee0000"]], 10.2, "#000")
legend(31, 664, [["$SPX:$RUT 1.59", "#000"]], 10.4, "#000")
legend(28, 674.6, [["EMA(20) 1.60", "#1a1aa0"]], 9.6, "#1a1aa0")
lg.append("text").attr("x", 237).attr("y", 527).attr("font-size", 11)
  .attr("textLength", 333).attr("lengthAdjust", "spacingAndGlyphs")
  .text("ADX > 20: Use Trend Indicators, ADX < 20: Use Momentum Indicators")

// ---------------- frames and axes ----------------
const frame = svg.append("g").attr("fill", "none").attr("stroke", "#b9b9b9")
Object.values(P).forEach(p => frame.append("rect").attr("x", left).attr("y", p.top).attr("width", right - left).attr("height", p.bottom - p.top))
;[[258.5, 275], [733, 750]].forEach(([a, b]) => [left, right].forEach(xx =>
  frame.append("line").attr("x1", xx).attr("x2", xx).attr("y1", a).attr("y2", b)))

const axes = svg.append("g").attr("font-size", 10.2).attr("fill", "#111")
function rightAxis(p, ticks, label, anchorEnd) {
  ticks.forEach(v => {
    axes.append("line").attr("x1", right).attr("x2", right + 3).attr("y1", p.y(v)).attr("y2", p.y(v)).attr("stroke", "#999")
    axes.append("text").attr("x", anchorEnd ? 594 : 581.5).attr("y", p.y(v) + 3.6)
      .attr("text-anchor", anchorEnd ? "end" : "start").text(label(v))
  })
}
rightAxis(pp, priceTicks, v => v)
rightAxis(vp, volTicks, v => v + "B")
rightAxis(mp, macdTicks, v => v, true)
rightAxis(ap, adxTicks, v => v)
rightAxis(sp, stoTicks, v => v)
rightAxis(rp, ratioTicks, v => v.toFixed(2))

function dateRow(base, tickTop) {
  tickDates.forEach((d, i) => {
    const month = isNaN(+tickLabels[i])
    axes.append("line").attr("x1", xd(d)).attr("x2", xd(d)).attr("y1", tickTop).attr("y2", tickTop + 2.5).attr("stroke", "#aaa")
    axes.append("text").attr("x", xd(d)).attr("y", base).attr("text-anchor", "middle")
      .attr("font-size", 10.2).attr("font-weight", month ? "bold" : "normal").text(tickLabels[i])
  })
}
dateRow(270.2, 258.5)
dateRow(745.6, 733)

// ---------------- marker lines and arrows ----------------
markerDays.forEach((d, i) => svg.append("line")
  .attr("x1", xd(d) - 0.8).attr("x2", xd(d) - 0.8).attr("y1", 31).attr("y2", 733)
  .attr("stroke", "#006400").attr("stroke-width", i == 0 ? 1 : 2.6).attr("stroke-dasharray", i == 0 ? "4,3" : "5,3"))

const arrows = svg.append("g")
function arrow(cx, tip, up, color) {
  const s = up ? 1 : -1, hw = 6.5, sw = 3.2, hh = 6.8, len = 15
  const pts = [[cx, tip], [cx + hw, tip + s * hh], [cx + sw, tip + s * hh], [cx + sw, tip + s * len],
    [cx - sw, tip + s * len], [cx - sw, tip + s * hh], [cx - hw, tip + s * hh]]
  arrows.append("polygon").attr("points", pts.join(" ")).attr("fill", color)
}
volArrowDates.forEach((d, i) => arrow(xd(d), vp.y(volArrowAt[i]), false, volArrowKind[i] == "dist" ? "#f01010" : "#006600"))
signalArrows.forEach(a => arrow(xd(a.date), P[a.panel].y(a.value), a.dir == "up", a.dir == "up" ? "#006600" : "#7a7a7a"))

// ---------------- header ----------------
const head = svg.append("g")
head.append("text").attr("x", 16).attr("y", 16.5).attr("font-size", 15.5).attr("font-weight", "bold")
  .attr("textLength", 34).attr("lengthAdjust", "spacingAndGlyphs").text("$SPX")
const sub = head.append("text").attr("x", 55).attr("y", 15.5).attr("font-size", 11).text("S&P 500 Large Cap Index")
head.append("text").attr("x", 55 + sub.node().getComputedTextLength() + 4).attr("y", 15.5).attr("font-size", 10).text("INDX")
head.append("text").attr("x", 579).attr("y", 15).attr("text-anchor", "end").attr("font-size", 11).attr("fill", "#444").text("© StockCharts.com")
const quote = [["20-Sep-2013", 16, false], ["Open", 95, true], ["1722.44", 127, false], ["High", 171, true], ["1725.23", 199, false],
  ["Low", 244, true], ["1708.89", 272, false], ["Close", 317, true], ["1709.91", 348.5, false], ["Volume", 396, true],
  ["3.3B", 441, false], ["Chg", 471, true], ["-12.43 (-0.72%)", 495, false]]
quote.forEach(([s, xx, b]) => head.append("text").attr("x", xx).attr("y", 27.8).attr("font-size", 11)
  .attr("font-weight", b ? "bold" : "normal").text(s))
head.append("polygon").attr("points", "572.5,22.5 578.5,22.5 575.5,27").attr("fill", "#99102c")
</script>
</body>
</html>
